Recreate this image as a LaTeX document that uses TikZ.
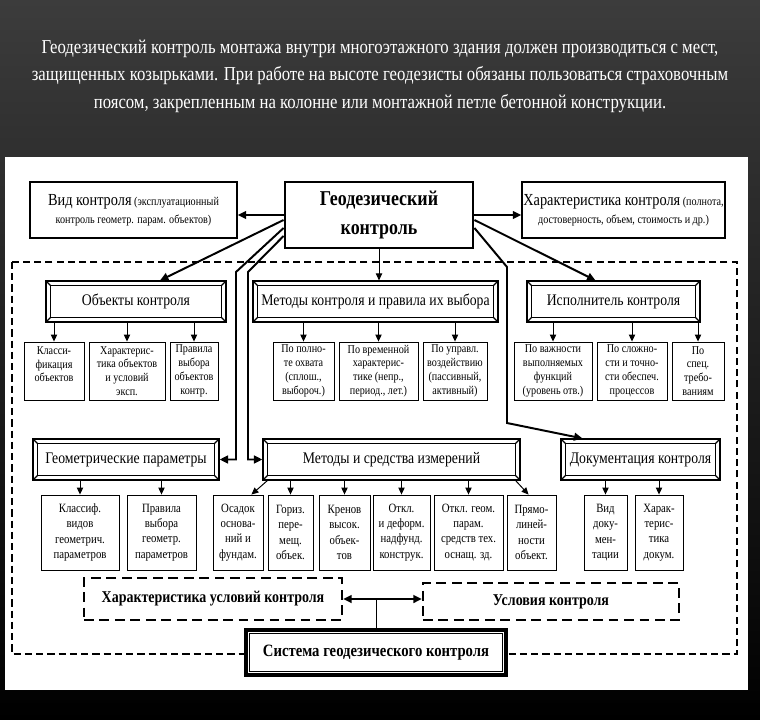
\documentclass[tikz,border=0pt]{standalone}
\usepackage{fontspec}
\setmainfont{Liberation Serif}[FakeStretch=0.85]
\usetikzlibrary{arrows.meta,calc}
\newcommand\bevel[1]{%
\draw [black, line width=0.8pt] ([shift={(5,5)}]#1.north west) rectangle ([shift={(-5,-5)}]#1.south east);
\draw [black, line width=0.8pt] (#1.north west) -- ++(5,5) (#1.north east) -- ++(-5,5)
  (#1.south west) -- ++(5,-5) (#1.south east) -- ++(-5,-5);}

\begin{document}
\begin{tikzpicture}[x=0.025cm,y=-0.025cm]
\tikzstyle{every node}+=[inner sep=0pt, align=center]
\tikzstyle{topbox}=[draw, fill=white, line width=1.1pt, minimum height=1.4cm, font=\fontsize{8.5}{13}\selectfont]
\tikzstyle{head}=[draw, fill=white, line width=0.8pt, minimum height=1.025cm, font=\fontsize{11.5}{13}\selectfont]
\tikzstyle{cellA}=[draw, fill=white, line width=0.6pt, minimum height=1.45cm, font=\fontsize{8.5}{9.8}\selectfont]
\tikzstyle{cellB}=[draw, fill=white, line width=0.6pt, minimum height=1.875cm, font=\fontsize{9}{10.8}\selectfont]
\tikzstyle{cond}=[draw, fill=white, line width=1.6pt, dash pattern=on 7pt off 4pt, font=\bfseries\fontsize{11.7}{13}\selectfont]
\tikzstyle{arr}=[-{Triangle[length=5pt,width=4.5pt]}, line width=0.7pt]
\tikzstyle{bigarr}=[-{Triangle[length=6pt,width=5.5pt]}, line width=1.4pt]
\useasboundingbox (0,0) rectangle (760,720);
\fill [black] (0,0) rectangle (760,720);
\shade [top color={rgb,255:red,60;green,60;blue,60}, bottom color=black] (0,0) rectangle (760,720);
\fill [white] (5,157) rectangle (748,690);
\node [text=white, font=\fontsize{14}{19.5}\selectfont] (title) at (380,76)
  {Геодезический контроль монтажа внутри многоэтажного здания должен производиться с мест,\\
   защищенных козырьками. При работе на высоте геодезисты обязаны пользоваться страховочным\\
   поясом, закрепленным на колонне или монтажной петле бетонной конструкции.};
\draw [black, line width=0.9pt, dash pattern=on 5pt off 3pt] (12,262) rectangle (737,654);

\node [topbox, minimum width=5.175cm] (vid) at (133.5,210)
  {{\fontsize{12}{14}\selectfont Вид контроля} (эксплуатационный\\контроль геометр. парам. объектов)};
\node [draw, fill=white, line width=2pt, minimum width=4.7cm, minimum height=1.65cm,
  font=\bfseries\fontsize{15}{20}\selectfont] (geo) at (379,215) {Геодезический\\контроль};
\node [topbox, minimum width=5.075cm] (har) at (623.5,210)
  {{\fontsize{12}{14}\selectfont Характеристика контроля} (полнота,\\достоверность, объем, стоимость и др.)};

\node [head, minimum width=4.5cm] (obj) at (136,301.5) {Объекты контроля};
\node [head, minimum width=6.125cm] (met) at (375.5,301.5) {Методы контроля и правила их выбора};
\node [head, minimum width=4.325cm] (isp) at (613.5,301.5) {Исполнитель контроля};
\bevel{obj} \bevel{met} \bevel{isp}

\node [cellA, minimum width=1.5cm] (c1) at (54,371) {Класси-\\фикация\\объектов\\\mbox{}};
\node [cellA, minimum width=1.9cm] (c2) at (127,371) {Характерис-\\тика объектов\\и условий\\эксп.};
\node [cellA, minimum width=1.2cm] (c3) at (194,371) {Правила\\выбора\\объектов\\контр.};
\node [cellA, minimum width=1.525cm] (c4) at (303.5,371) {По полно-\\те охвата\\(сплош.,\\выбороч.)};
\node [cellA, minimum width=1.975cm] (c5) at (378.5,371) {По временной\\характерис-\\тике (непр.,\\период., лет.)};
\node [cellA, minimum width=1.6cm] (c6) at (455,371) {По управл.\\воздействию\\(пассивный,\\активный)};
\node [cellA, minimum width=1.95cm] (c7) at (553,371) {По важности\\выполняемых\\функций\\(уровень отв.)};
\node [cellA, minimum width=1.75cm] (c8) at (632,371) {По сложно-\\сти и точно-\\сти обеспеч.\\процессов};
\node [cellA, minimum width=1.3cm] (c9) at (698,371) {По\\спец.\\требо-\\ваниям};

\node [head, minimum width=4.65cm] (gp) at (126,459.5) {Геометрические параметры};
\node [head, minimum width=6.425cm] (mi) at (391.5,459.5) {Методы и средства измерений};
\node [head, minimum width=3.975cm] (dk) at (640.5,459.5) {Документация контроля};
\bevel{gp} \bevel{mi} \bevel{dk}

\node [cellB, minimum width=1.95cm] (d1) at (80,532.5) {Классиф.\\видов\\геометрич.\\параметров};
\node [cellB, minimum width=1.725cm] (d2) at (161.5,532.5) {Правила\\выбора\\геометр.\\параметров};
\node [cellB, minimum width=1.25cm] (d3) at (238,532.5) {Осадок\\основа-\\ний и\\фундам.};
\node [cellB, minimum width=1.125cm] (d4) at (290.5,532.5) {Гориз.\\пере-\\мещ.\\объек.};
\node [cellB, minimum width=1.275cm] (d5) at (344.5,532.5) {Кренов\\высок.\\объек-\\тов};
\node [cellB, minimum width=1.425cm] (d6) at (401.5,532.5) {Откл.\\и деформ.\\надфунд.\\конструк.};
\node [cellB, minimum width=1.725cm] (d7) at (468.5,532.5) {Откл. геом.\\парам.\\средств тех.\\оснащ. зд.};
\node [cellB, minimum width=1.225cm] (d8) at (531.5,532.5) {Прямо-\\линей-\\ности\\объект.};
\node [cellB, minimum width=1.075cm] (d9) at (605.5,532.5) {Вид\\доку-\\мен-\\тации};
\node [cellB, minimum width=1.2cm] (d10) at (659,532.5) {Харак-\\терис-\\тика\\докум.};

\node [cond, minimum width=6.45cm, minimum height=1.05cm] (hu) at (213,599) {Характеристика условий контроля};
\node [cond, minimum width=6.4cm, minimum height=0.925cm] (uk) at (551,601.5) {Условия контроля};
\node [draw, fill=white, line width=2.2pt, minimum width=6.5cm, minimum height=1.125cm,
  font=\bfseries\fontsize{12.3}{14}\selectfont] (sys) at (376,652.5) {Система геодезического контроля};
\draw [black, line width=0.6pt] ([shift={(5,5)}]sys.north west) rectangle ([shift={(-5,-5)}]sys.south east);

\draw [bigarr] (geo.west) -- (vid.east |- geo.west);
\draw [bigarr] (geo.east) -- (har.west |- geo.east);
\draw [arr] (geo.south) -- (geo.south |- met.north);
\draw [bigarr] ($(geo.west)+(0,5)$) -- ($(obj.north)+(24,0)$);
\draw [bigarr] ($(geo.west)+(0,13)$) -- (236,272) |- (gp.east);
\draw [bigarr] ($(geo.west)+(0,21)$) -- (248,272) |- (mi.west);
\draw [bigarr] ($(geo.east)+(0,5)$) -- ($(isp.north)+(-18,0)$);
\draw [bigarr] ($(geo.east)+(0,13)$) -- (507,267) -- (507,423) -- ($(dk.north)+(-58,0)$);

\foreach \c in {c1,c2,c3} \draw [arr] (\c |- obj.south) -- (\c.north);
\foreach \c in {c4,c5,c6} \draw [arr] (\c |- met.south) -- (\c.north);
\foreach \c in {c7,c8,c9} \draw [arr] (\c |- isp.south) -- (\c.north);
\foreach \c in {d1,d2} \draw [arr] (\c |- gp.south) -- (\c.north);
\foreach \c in {d4,d5,d6,d7} \draw [arr] (\c |- mi.south) -- (\c.north);
\foreach \c in {d9,d10} \draw [arr] (\c |- dk.south) -- (\c.north);
\draw [arr] ($(mi.south west)+(5,0)$) -- ($(d3.north east)+(-12,0)$);
\draw [arr] ($(mi.south east)+(-5,0)$) -- ($(d8.north west)+(22,0)$);

\draw [bigarr, {Triangle[length=6pt,width=5.5pt]}-{Triangle[length=6pt,width=5.5pt]}] (hu.east) -- (uk.west |- hu.east);
\draw [line width=0.7pt] (sys.north) -- (sys.north |- hu.east);
\end{tikzpicture}
\end{document}
